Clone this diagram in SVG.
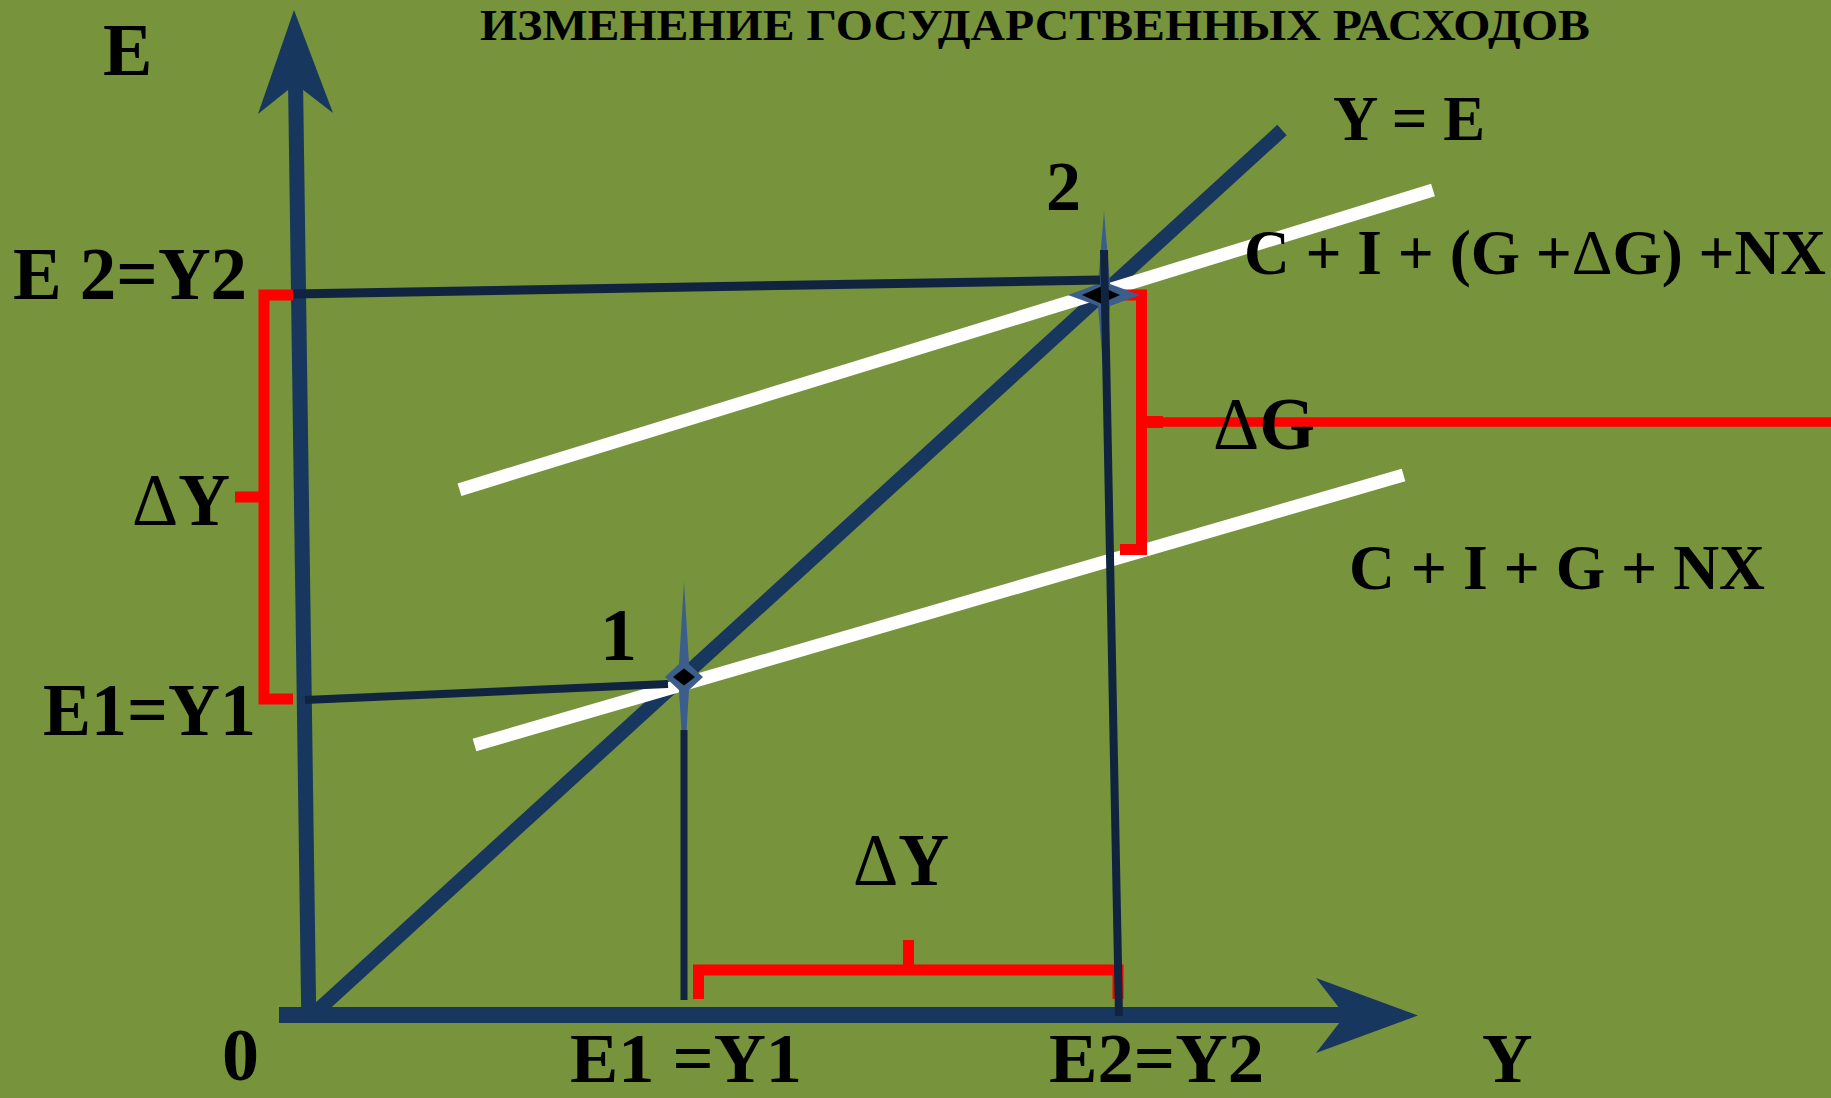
<svg xmlns="http://www.w3.org/2000/svg" width="1831" height="1098" viewBox="0 0 1831 1098">
<style>
.t{font-family:"Liberation Serif","Times New Roman",serif;font-weight:bold;fill:#000}
.d{font-weight:normal}
.axis{stroke:#17375E;fill:none}
.thin{stroke:#10243F;fill:none}
.white{stroke:#FFFFFF;stroke-width:13;fill:none}
.red{stroke:#FF0000;stroke-width:11;fill:none}
.star{fill:#3B5E8C}
</style>
<rect x="0" y="0" width="1831" height="1098" fill="#77933C"/>
<text class="t" x="480" y="40" font-size="44" textLength="1110" lengthAdjust="spacingAndGlyphs">ИЗМЕНЕНИЕ ГОСУДАРСТВЕННЫХ РАСХОДОВ</text>
<g id="connectors">
  <line class="axis" x1="308.7" y1="1012" x2="295.5" y2="80" stroke-width="15"/>
  <polygon fill="#17375E" points="294,10 333,113 295.5,84 258,114"/>
  <line class="axis" x1="279" y1="1015" x2="1346" y2="1015" stroke-width="16"/>
  <polygon fill="#17375E" points="1418,1015.5 1316,1053 1345,1015.5 1316,978"/>
  <line class="axis" x1="318" y1="1010" x2="1282" y2="130" stroke-width="14"/>
  <line class="white" x1="459.5" y1="489.7" x2="1433" y2="190"/>
  <line class="white" x1="474.5" y1="745" x2="1403.5" y2="475"/>
  <path class="red" d="M293 295 H264 V699 H293 M264 497 H235"/>
  <path class="red" d="M698.5 999 V970 H1118 V999 M908.5 970 V940"/>
  <path class="red" d="M1120 295 H1141.5 V549.5 H1120"/>
  <line x1="1136" y1="422" x2="1163" y2="422" stroke="#FF0000" stroke-width="12"/>
  <line x1="1160" y1="422" x2="1831" y2="422" stroke="#FF0000" stroke-width="9.5"/>
</g>
<g id="point1">
  <polygon class="star" points="684,582 689,664 703,677 689,690 684,772 679,690 665,677 679,664"/>
  <polygon fill="#000" points="673,677 684,668.5 695,677 684,685.5"/>
</g>
<g id="point2">
  <polygon class="star" points="1104,211 1110,284 1140,295 1110,306 1104,379 1098,306 1068,295 1098,284"/>
  <polygon fill="#000" points="1082,295 1101,286.5 1120,295 1101,303.5"/>
</g>
<g id="guides">
  <line class="thin" x1="293" y1="294" x2="1100" y2="280" stroke-width="9"/>
  <line class="thin" x1="305" y1="700" x2="668" y2="684" stroke-width="8"/>
  <line class="thin" x1="684" y1="730" x2="684" y2="1000" stroke-width="7"/>
  <line class="thin" x1="1104" y1="250" x2="1119" y2="1016" stroke-width="8"/>
</g>
<g id="labels">
  <text class="t" x="103" y="75" font-size="74">E</text>
  <text class="t" x="13" y="299" font-size="74" textLength="234" lengthAdjust="spacingAndGlyphs">E 2=Y2</text>
  <text class="t" x="132" y="525" font-size="74" textLength="98" lengthAdjust="spacingAndGlyphs"><tspan class="d">Δ</tspan>Y</text>
  <text class="t" x="43" y="735" font-size="74" textLength="213" lengthAdjust="spacingAndGlyphs">E1=Y1</text>
  <text class="t" x="600" y="660" font-size="74">1</text>
  <text class="t" x="1046" y="210" font-size="70">2</text>
  <text class="t" x="1333" y="140" font-size="64" textLength="152" lengthAdjust="spacingAndGlyphs">Y = E</text>
  <text class="t" x="1244" y="274" font-size="64" textLength="582" lengthAdjust="spacingAndGlyphs">C + I + (G +<tspan class="d">Δ</tspan>G) +NX</text>
  <text class="t" x="1213" y="449" font-size="74" textLength="102" lengthAdjust="spacingAndGlyphs"><tspan class="d">Δ</tspan>G</text>
  <text class="t" x="1349" y="589" font-size="64" textLength="416" lengthAdjust="spacingAndGlyphs">C + I + G + NX</text>
  <text class="t" x="222" y="1080" font-size="74">0</text>
  <text class="t" x="570" y="1082" font-size="70" textLength="232" lengthAdjust="spacingAndGlyphs">E1 =Y1</text>
  <text class="t" x="1049" y="1082" font-size="70" textLength="215" lengthAdjust="spacingAndGlyphs">E2=Y2</text>
  <text class="t" x="1482" y="1082" font-size="70">Y</text>
  <text class="t" x="853" y="885" font-size="74" textLength="96" lengthAdjust="spacingAndGlyphs"><tspan class="d">Δ</tspan>Y</text>
</g>
</svg>
